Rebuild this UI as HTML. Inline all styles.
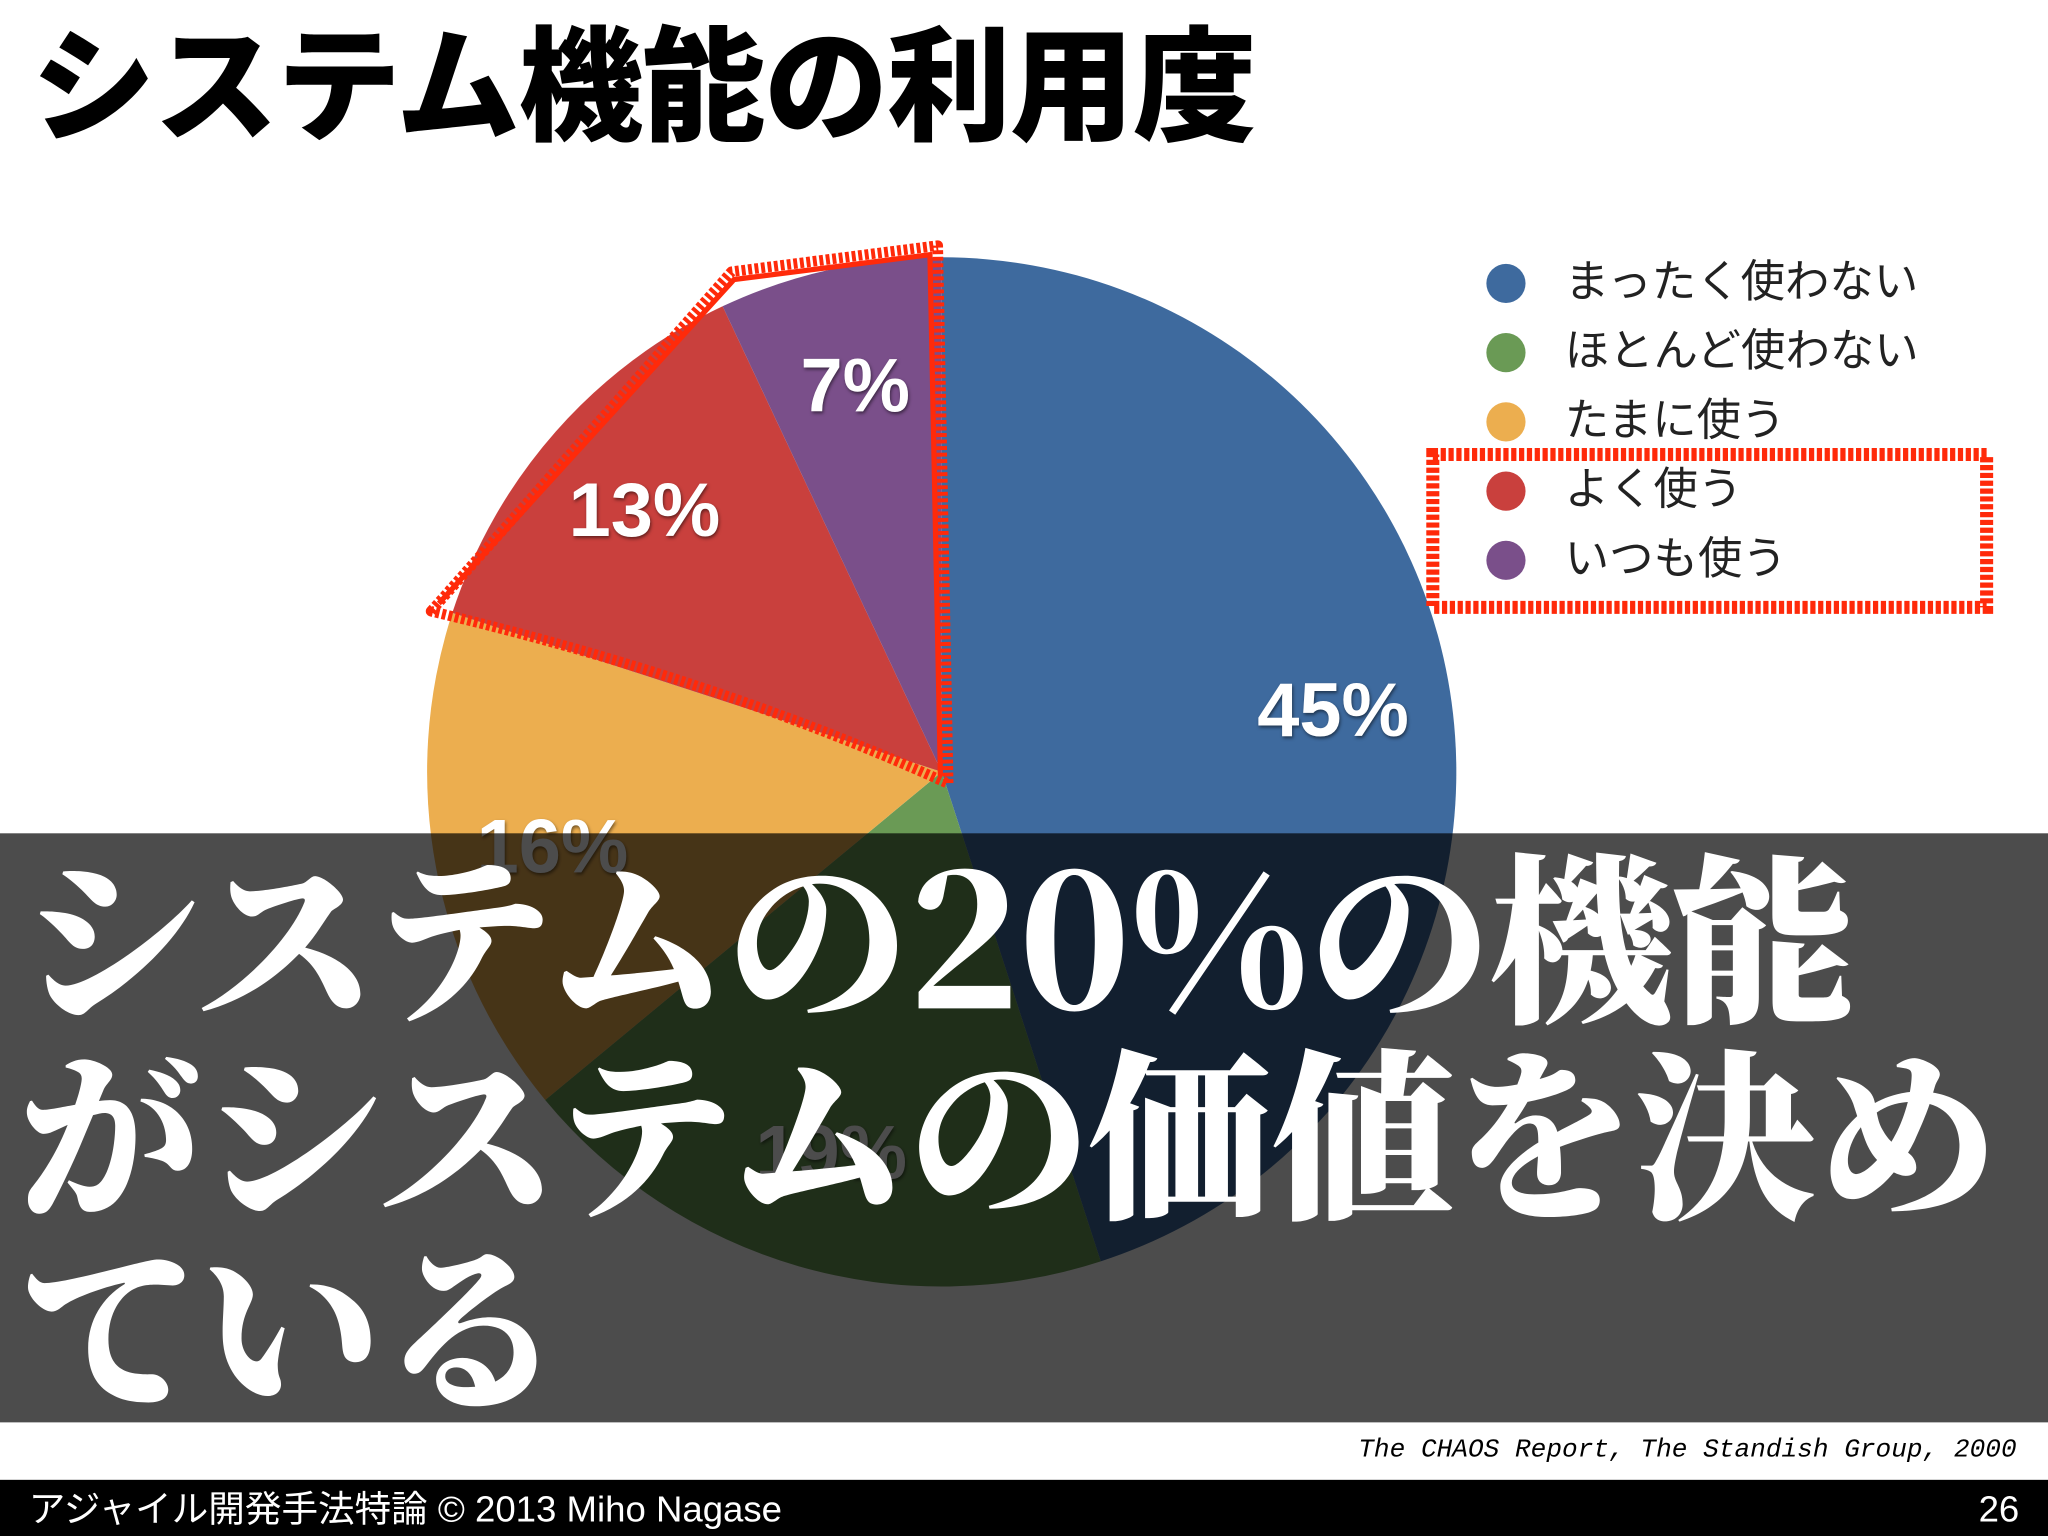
<!DOCTYPE html>
<html><head><meta charset="utf-8">
<style>
html,body{margin:0;padding:0;background:#fff;overflow:hidden;width:2048px;height:1536px}
#stage{position:absolute;left:0;top:0;width:1568px;height:1176px;transform:scale(1.306122);transform-origin:0 0;font-family:"Liberation Sans","Noto Sans CJK JP",sans-serif}
.title{position:absolute;left:24px;top:16px;font-size:95px;font-weight:900;letter-spacing:-1px;color:#000;line-height:1.1}
.leg{position:absolute;left:1138px;font-size:34px;color:#222;line-height:40px}
.leg i{position:absolute;left:0;top:6px;width:30px;height:30px;border-radius:50%}
.leg span{position:absolute;left:60px;white-space:nowrap}
.band{position:absolute;left:0;top:638px;width:1568px;height:451px;background:rgba(0,0,0,0.7)}
.big{position:absolute;left:14px;color:#fff;font-family:"Noto Serif CJK JP","Noto Serif CJK SC",serif;font-weight:900;font-size:140px;line-height:145px;white-space:nowrap;letter-spacing:-1px}
.src{position:absolute;right:24px;top:1099px;font-family:"Liberation Mono",monospace;font-style:italic;font-size:20px;color:#000}
.foot{position:absolute;left:0;top:1133px;width:1568px;height:43px;background:#000;color:#fff;font-size:28px;line-height:46px}
</style></head><body>
<div id="stage">
<div class="title">システム機能の利用度</div>
<svg id="pie" width="1568" height="1176" style="position:absolute;left:0;top:0"></svg>
<div class="leg" style="top:196px"><i style="background:#3e6a9e"></i><span>まったく使わない</span></div>
<div class="leg" style="top:249px"><i style="background:#6a9a55"></i><span>ほとんど使わない</span></div>
<div class="leg" style="top:302px"><i style="background:#ecae4f"></i><span>たまに使う</span></div>
<div class="leg" style="top:355px"><i style="background:#c9403d"></i><span>よく使う</span></div>
<div class="leg" style="top:408px"><i style="background:#7a4f8a"></i><span>いつも使う</span></div>
<svg width="1568" height="1176" style="position:absolute;left:0;top:0">
<path d="M330,468 L560,208 L718,188 L726,600 Q550,520 330,468 Z" fill="none" stroke="#ff2a0a" stroke-width="8" stroke-dasharray="3 2" stroke-linejoin="round"/>
<path d="M336,462 L562,214 L712,195 L720,594" fill="none" stroke="#ff2a0a" stroke-width="4"/>
<rect x="1097" y="348" width="424" height="117" fill="none" stroke="#ff2a0a" stroke-width="10" stroke-dasharray="4 2"/>
</svg>
<div class="band"></div>
<div class="big" style="top:640px">システムの20%の機能</div>
<div class="big" style="top:790px">がシステムの価値を決め</div>
<div class="big" style="top:937px">ている</div>
<div class="src">The CHAOS Report, The Standish Group, 2000</div>
<div class="foot"><span style="position:absolute;left:22px">アジャイル開発手法特論 © 2013 Miho Nagase</span><span style="position:absolute;right:22px">26</span></div>
</div>
<script>
const categories=["まったく使わない","ほとんど使わない","たまに使う","よく使う","いつも使う"];
const values=[45,19,16,13,7];
const labels=["45%","19%","16%","13%","7%"];
const colors=["#3e6a9e","#6a9a55","#ecae4f","#c9403d","#7a4f8a"];
const svg=document.getElementById('pie');
const NS="http://www.w3.org/2000/svg";
const cx=721,cy=591,r=394;
const total=values.reduce((a,b)=>a+b,0);
function pt(a,rr){return [cx+rr*Math.sin(a),cy-rr*Math.cos(a)];}
let acc=0;
values.forEach((v,i)=>{
  const a0=acc/total*2*Math.PI; acc+=v; const a1=acc/total*2*Math.PI;
  const p0=pt(a0,r),p1=pt(a1,r);
  const p=document.createElementNS(NS,'path');
  p.setAttribute('d',`M${cx},${cy} L${p0[0]},${p0[1]} A${r},${r} 0 ${a1-a0>Math.PI?1:0} 1 ${p1[0]},${p1[1]} Z`);
  p.setAttribute('fill',colors[i]);
  
  
  svg.appendChild(p);
  const m=(a0+a1)/2, lp=pt(m,r*0.77);
  const t=document.createElementNS(NS,'text');
  t.setAttribute('x',lp[0]);t.setAttribute('y',lp[1]+20);
  t.setAttribute('text-anchor','middle');t.setAttribute('fill','#fff');
  t.setAttribute('font-size','58');t.setAttribute('font-weight','bold');
  t.setAttribute('font-family','Liberation Sans, sans-serif');
  t.setAttribute('style','text-shadow:1px 2px 3px rgba(0,0,0,.5)');
  t.textContent=labels[i];
  
  
  svg.appendChild(t);
});
</script>
</body></html>
